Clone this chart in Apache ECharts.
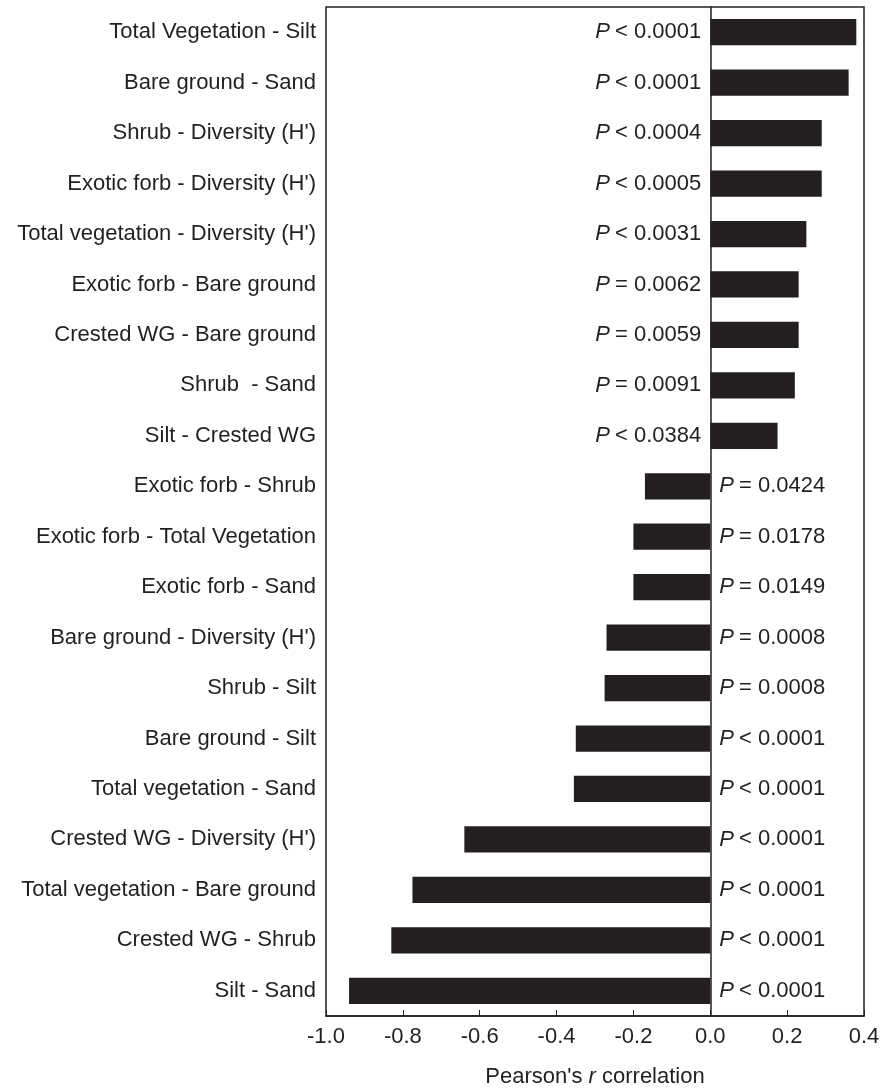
<!DOCTYPE html>
<html lang="en">
<head>
<meta charset="UTF-8">
<title>Pearson correlations</title>
<script src="https://cdn.jsdelivr.net/npm/echarts@6/dist/echarts.min.js"></script>
<style>
  html, body { margin: 0; padding: 0; background: #fff; }
  #chart { width: 880px; height: 1088px; }
</style>
</head>
<body>
<div id="chart"></div>
<script>
// pairs, top to bottom
var pairs = [
  'Total Vegetation - Silt', 'Bare ground - Sand', "Shrub - Diversity (H')",
  "Exotic forb - Diversity (H')", "Total vegetation - Diversity (H')",
  'Exotic forb - Bare ground', 'Crested WG - Bare ground', 'Shrub  - Sand',
  'Silt - Crested WG', 'Exotic forb - Shrub', 'Exotic forb - Total Vegetation',
  'Exotic forb - Sand', "Bare ground - Diversity (H')", 'Shrub - Silt',
  'Bare ground - Silt', 'Total vegetation - Sand', "Crested WG - Diversity (H')",
  'Total vegetation - Bare ground', 'Crested WG - Shrub', 'Silt - Sand'
];
var rValues = [0.38, 0.36, 0.29, 0.29, 0.25, 0.23, 0.23, 0.22, 0.175, -0.17,
  -0.20, -0.20, -0.27, -0.275, -0.35, -0.355, -0.64, -0.775, -0.83, -0.94];
var pSigns = ['<', '<', '<', '<', '<', '=', '=', '=', '<', '=',
  '=', '=', '=', '=', '<', '<', '<', '<', '<', '<'];
var pValues = ['0.0001', '0.0001', '0.0004', '0.0005', '0.0031', '0.0062', '0.0059', '0.0091', '0.0384', '0.0424',
  '0.0178', '0.0149', '0.0008', '0.0008', '0.0001', '0.0001', '0.0001', '0.0001', '0.0001', '0.0001'];
var xTicks = [-1.0, -0.8, -0.6, -0.4, -0.2, 0.0, 0.2, 0.4];

var font = '"Liberation Sans", Arial, sans-serif';
var fs = 22;
var ink = '#231f20';

var chart = echarts.init(document.getElementById('chart'));

var barData = rValues.map(function (v, i) {
  return {
    value: v,
    label: {
      show: true,
      position: v >= 0 ? 'left' : 'right',
      distance: 9,
      formatter: '{i|P}{n|' + pSigns[i] + ' ' + pValues[i] + '}'
    }
  };
});

var option = {
  animation: false,
  backgroundColor: '#fff',
  grid: {
    left: 326, right: 16, top: 7, bottom: 72,
    outerBoundsMode: 'none',
    containLabel: false,
    show: true, borderColor: ink, borderWidth: 1.5, backgroundColor: 'transparent'
  },
  xAxis: {
    type: 'value',
    min: xTicks[0], max: xTicks[xTicks.length - 1], interval: 0.2,
    splitLine: { show: false },
    axisLine: { show: true, lineStyle: { color: ink, width: 1.5 } },
    axisTick: { show: true, inside: true, length: 6, lineStyle: { color: ink } },
    axisLabel: {
      color: ink, fontFamily: font, fontSize: fs, margin: 10,
      formatter: function (v) { return v.toFixed(1); }
    },
    name: "{a|Pearson's }{i|r}{a| correlation}",
    nameLocation: 'middle',
    nameGap: 50,
    nameTextStyle: {
      rich: {
        a: { fontFamily: font, fontSize: fs, color: ink },
        i: { fontFamily: font, fontSize: fs, color: ink, fontStyle: 'italic' }
      }
    }
  },
  yAxis: {
    type: 'category',
    data: pairs,
    inverse: true,
    axisLine: { show: true, onZero: true, lineStyle: { color: ink, width: 1.5 } },
    axisTick: { show: false },
    axisLabel: { color: ink, fontFamily: font, fontSize: fs, margin: 10 }
  },
  series: [{
    type: 'bar',
    data: barData,
    barWidth: '52%',
    itemStyle: { color: ink },
    label: {
      color: ink,
      rich: {
        i: { fontFamily: font, fontSize: fs, color: ink, fontStyle: 'italic', padding: [0, 5, 0, 0] },
        n: { fontFamily: font, fontSize: fs, color: ink }
      }
    }
  }]
};

chart.setOption(option);
</script>
</body>
</html>
